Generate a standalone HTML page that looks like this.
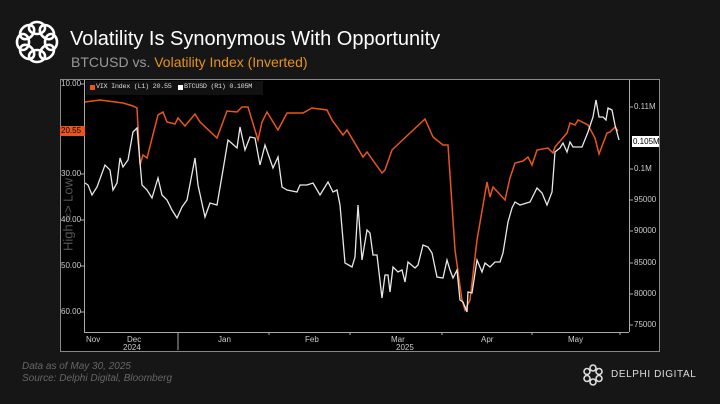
<!DOCTYPE html>
<html><head><meta charset="utf-8"><style>
body{margin:0;width:720px;height:404px;background:#161616;overflow:hidden;font-family:"Liberation Sans",sans-serif;position:relative}
.t{position:absolute;white-space:nowrap}
</style></head><body>
<svg width="720" height="404" style="position:absolute;left:0;top:0">
<g fill="none" stroke="#fff" stroke-width="2.6" transform="translate(37,42)">
<ellipse rx="8" ry="6" transform="rotate(0) translate(0,-14)"/>
<ellipse rx="8" ry="6" transform="rotate(45) translate(0,-14)"/>
<ellipse rx="8" ry="6" transform="rotate(90) translate(0,-14)"/>
<ellipse rx="8" ry="6" transform="rotate(135) translate(0,-14)"/>
<ellipse rx="8" ry="6" transform="rotate(180) translate(0,-14)"/>
<ellipse rx="8" ry="6" transform="rotate(225) translate(0,-14)"/>
<ellipse rx="8" ry="6" transform="rotate(270) translate(0,-14)"/>
<ellipse rx="8" ry="6" transform="rotate(315) translate(0,-14)"/>
</g>
<g fill="none" stroke="#ddd" stroke-width="1.6" transform="translate(593,375)">
<circle r="3" cx="0" cy="-7"/><circle r="3" cx="6" cy="-3.5"/><circle r="3" cx="6" cy="3.5"/><circle r="3" cx="0" cy="7"/><circle r="3" cx="-6" cy="3.5"/><circle r="3" cx="-6" cy="-3.5"/>
</g>
<rect x="60.5" y="79.5" width="599" height="272" fill="#000" stroke="#888" stroke-width="1"/>
<line x1="84.5" y1="80" x2="84.5" y2="332" stroke="#aaa"/>
<line x1="84" y1="332.5" x2="629" y2="332.5" stroke="#aaa"/>
<line x1="629.5" y1="80" x2="629.5" y2="332" stroke="#aaa"/>
<g stroke="#aaa">
<line x1="80" y1="84" x2="85" y2="84"/><line x1="80" y1="174" x2="85" y2="174"/><line x1="80" y1="220" x2="85" y2="220"/><line x1="80" y1="266" x2="85" y2="266"/><line x1="80" y1="312" x2="85" y2="312"/>
<line x1="629" y1="107" x2="633" y2="107"/><line x1="629" y1="169" x2="633" y2="169"/><line x1="629" y1="200" x2="633" y2="200"/><line x1="629" y1="231" x2="633" y2="231"/><line x1="629" y1="263" x2="633" y2="263"/><line x1="629" y1="294" x2="633" y2="294"/><line x1="629" y1="325" x2="633" y2="325"/>
<line x1="178" y1="332" x2="178" y2="350"/><line x1="269" y1="332" x2="269" y2="335"/><line x1="350" y1="332" x2="350" y2="335"/><line x1="442" y1="332" x2="442" y2="335"/><line x1="532" y1="332" x2="532" y2="335"/><line x1="620" y1="332" x2="620" y2="335"/>
</g>
<polyline fill="none" stroke="#e8561a" stroke-width="1.5" points="85,102 100,100 123,103 133,106 137,108 140,165 143,155 147,158 158,115 163,112 167,122 175,124 178,118 185,126 195,114 200,122 217,138 227,111 237,112 242,107 248,107 258,140 262,122 267,112 278,130 287,113 303,113 312,108 327,110 332,120 343,135 347,130 363,157 367,152 382,173 385,170 392,150 410,133 425,119 433,137 443,145 448,145 455,250 462,300 465,310 470,300 477,240 487,182 490,197 493,187 505,200 510,178 515,163 523,161 528,157 532,165 537,150 548,148 553,153 555,147 567,133 570,123 575,125 578,120 588,125 595,138 599,154 607,133 610,132 615,127 618,131"/>
<polyline fill="none" stroke="#e8e8e8" stroke-width="1.3" points="85,183 88,185 92,195 97,187 105,165 110,170 113,190 117,183 120,158 123,167 128,160 133,132 137,128 142,185 147,190 152,198 158,178 162,195 167,200 172,210 177,218 182,207 187,200 195,158 198,185 203,208 205,217 210,203 217,205 223,170 228,140 237,148 240,127 245,150 250,137 255,138 260,165 265,145 273,168 278,157 282,187 287,190 297,192 300,185 307,185 313,183 320,195 328,182 333,192 337,190 340,205 345,263 352,267 355,257 358,205 362,260 367,230 370,233 373,255 377,255 382,298 385,275 388,275 390,292 393,267 398,272 402,270 405,282 408,262 415,268 418,265 423,245 428,247 432,253 437,277 443,278 447,260 450,270 453,278 457,270 460,300 463,302 467,312 468,292 472,293 477,260 482,272 485,263 490,267 495,262 500,262 503,253 508,222 512,208 515,202 520,205 530,202 537,188 542,193 547,205 552,192 555,152 560,148 563,143 567,152 570,142 573,147 582,147 588,132 593,117 596,100 599,117 603,117 606,120 608,108 612,110 615,125 619,140"/>
<rect x="86" y="81" width="177" height="14" fill="#111"/>
<rect x="90" y="85" width="5" height="5" fill="#e8561a"/>
<rect x="178" y="85" width="5" height="5" fill="#fff"/>
<rect x="60" y="126" width="25" height="10" fill="#e8561a"/>
<rect x="632" y="136" width="27" height="11" fill="#fff"/>
</svg>
<div class="t" style="left:70px;top:28px;color:#fff;font-size:20px">Volatility Is Synonymous With Opportunity</div>
<div class="t" style="left:71px;top:54px;font-size:14px;color:#999">BTCUSD vs. <span style="color:#e8921e">Volatility Index (Inverted)</span></div>
<div class="t" style="left:96px;top:83px;font-size:6.8px;color:#ddd;font-family:'Liberation Mono',monospace;letter-spacing:-0.3px">VIX Index (L1) 20.55</div>
<div class="t" style="left:184px;top:83px;font-size:6.8px;color:#ddd;font-family:'Liberation Mono',monospace;letter-spacing:-0.3px">BTCUSD (R1) 0.105M</div>
<div style="font-size:8px;color:#ccc">
<div class="t" style="left:61px;top:79px">10.00</div>
<div class="t" style="left:61px;top:126px;color:#000">20.55</div>
<div class="t" style="left:61px;top:169px">30.00</div>
<div class="t" style="left:61px;top:215px">40.00</div>
<div class="t" style="left:61px;top:261px">50.00</div>
<div class="t" style="left:61px;top:307px">60.00</div>
<div class="t" style="left:634px;top:102px">0.11M</div>
<div class="t" style="left:633px;top:137px;color:#000">0.105M</div>
<div class="t" style="left:634px;top:164px">0.1M</div>
<div class="t" style="left:634px;top:195px">95000</div>
<div class="t" style="left:634px;top:226px">90000</div>
<div class="t" style="left:634px;top:258px">85000</div>
<div class="t" style="left:634px;top:289px">80000</div>
<div class="t" style="left:634px;top:320px">75000</div>
<div class="t" style="left:86px;top:335px">Nov</div>
<div class="t" style="left:127px;top:335px">Dec</div>
<div class="t" style="left:123px;top:343px">2024</div>
<div class="t" style="left:218px;top:335px">Jan</div>
<div class="t" style="left:305px;top:335px">Feb</div>
<div class="t" style="left:391px;top:335px">Mar</div>
<div class="t" style="left:396px;top:343px">2025</div>
<div class="t" style="left:481px;top:335px">Apr</div>
<div class="t" style="left:568px;top:335px">May</div>
</div>
<div class="t" style="left:18px;top:207px;width:100px;text-align:center;font-size:13px;color:#555;transform:rotate(-90deg)">High =&gt; Low</div>
<div class="t" style="left:22px;top:361px;font-size:10px;color:#666;font-style:italic">Data as of May 30, 2025</div>
<div class="t" style="left:22px;top:373px;font-size:10px;color:#666;font-style:italic">Source: Delphi Digital, Bloomberg</div>
<div class="t" style="left:611px;top:369px;font-size:10px;color:#ddd;letter-spacing:0.6px">DELPHI DIGITAL</div>
</body></html>
